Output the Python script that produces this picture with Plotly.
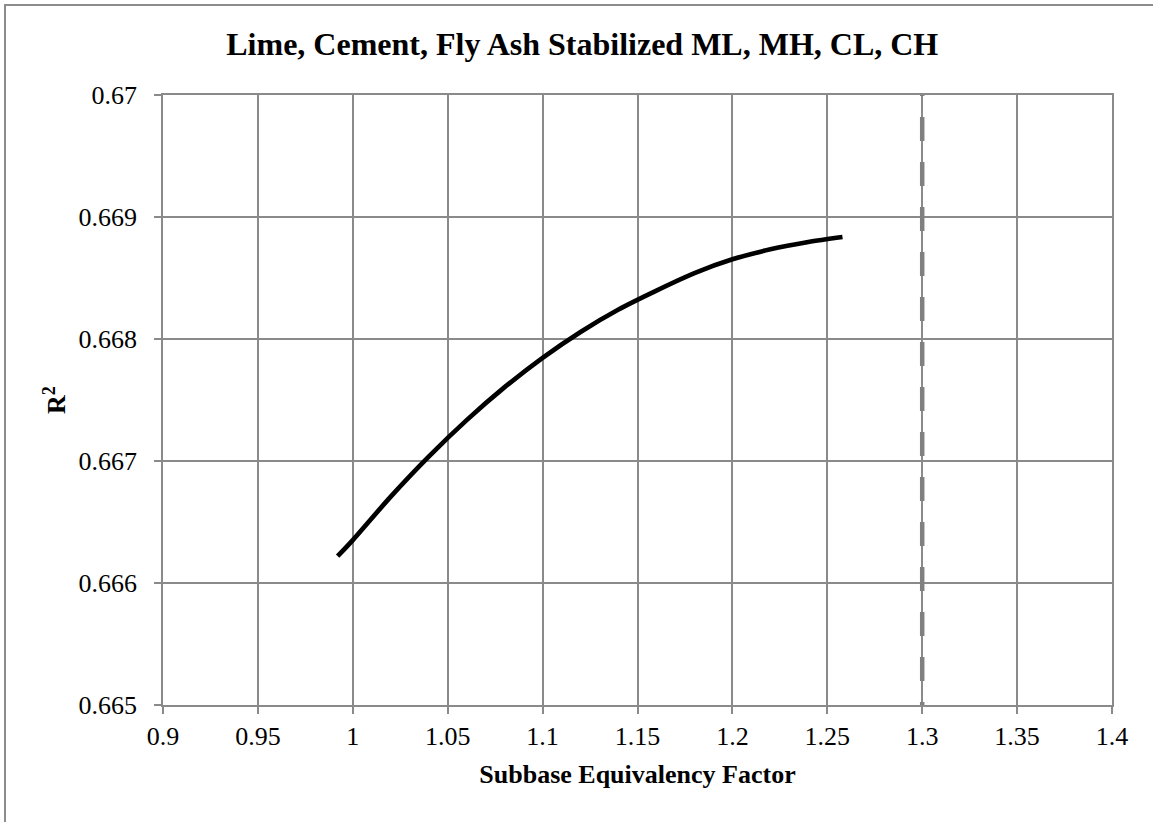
import plotly.graph_objects as go

# values
sef = [0.992, 1.00, 1.02, 1.04, 1.06, 1.08, 1.10, 1.12, 1.14, 1.16,
       1.18, 1.20, 1.22, 1.24, 1.258]
r2 = [0.66622, 0.666352, 0.666708, 0.667036, 0.667335, 0.667605, 0.667846,
      0.668058, 0.668242, 0.668397, 0.668540, 0.668653, 0.668735, 0.668795,
      0.668836]

limit_x = [1.3, 1.3]
limit_y = [0.670, 0.665]

x_ticks = [0.9, 0.95, 1.0, 1.05, 1.1, 1.15, 1.2, 1.25, 1.3, 1.35, 1.4]
x_labels = ['0.9', '0.95', '1', '1.05', '1.1', '1.15', '1.2', '1.25', '1.3', '1.35', '1.4']
y_ticks = [0.665, 0.666, 0.667, 0.668, 0.669, 0.670]
y_labels = ['0.665', '0.666', '0.667', '0.668', '0.669', '0.67']

FONT = 'Liberation Serif, Times New Roman, serif'
GRID = '#8a8a8a'

fig = go.Figure()
# long-dash pattern, phase shifted to look like the original
dash = '1px,21px,' + ','.join(['24px,21px'] * 14)
fig.add_trace(go.Scatter(x=limit_x, y=limit_y, mode='lines', showlegend=False,
                         line=dict(color='#808080', width=4.5, dash=dash)))
fig.add_trace(go.Scatter(x=sef, y=r2, mode='lines', showlegend=False,
                         line=dict(color='black', width=4.7, shape='spline', smoothing=0.8)))

axis_style = dict(showgrid=True, gridcolor=GRID, gridwidth=1.5,
                  showline=True, linecolor=GRID, linewidth=1.5, mirror=True,
                  ticks='outside', ticklen=7, tickcolor=GRID, tickwidth=1.5,
                  zeroline=False, tickfont=dict(family=FONT, size=26, color='black'))

fig.update_layout(
    width=1153, height=822,
    margin=dict(l=163, r=41, t=95, b=117),
    paper_bgcolor='white', plot_bgcolor='white',
    title=dict(text='<b>Lime, Cement, Fly Ash Stabilized ML, MH, CL, CH</b>',
               font=dict(family=FONT, size=32, color='black'),
               x=0.505, xanchor='center', y=1 - 44 / 822, yanchor='middle'),
    xaxis=dict(range=[0.9, 1.4], tickvals=x_ticks, ticktext=x_labels,
               title=dict(text='<b>Subbase Equivalency Factor</b>', standoff=15,
                          font=dict(family=FONT, size=26, color='black')),
               **axis_style),
    yaxis=dict(range=[0.665, 0.670], tickvals=y_ticks, ticktext=y_labels,
               ticklabelstandoff=12,
               title=dict(text='<b>R<sup>2</sup></b>', standoff=5,
                          font=dict(family=FONT, size=26, color='black')),
               **axis_style),
    shapes=[dict(type='rect', xref='paper', yref='paper',
                 x0=-0.1665, x1=1.06, y0=-0.25, y1=1.1475,
                 line=dict(color='#8c8c8c', width=2), layer='below')],
)

fig.write_html('out.html', config={'displayModeBar': False},
               post_script="document.body.style.margin='0';document.body.style.overflow='hidden';")
